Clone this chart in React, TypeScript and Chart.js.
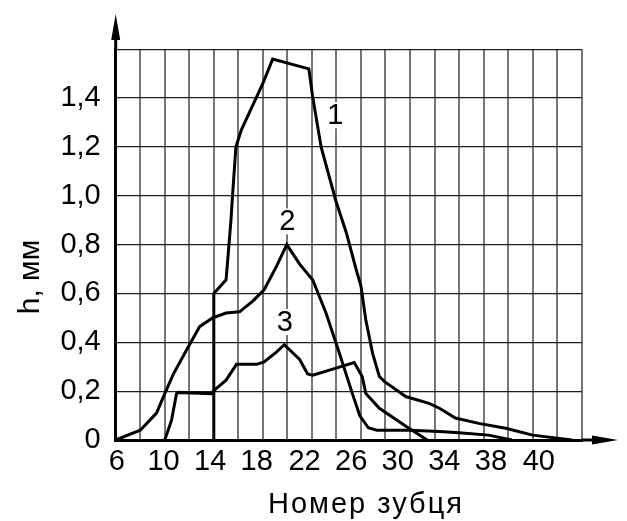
import React, { useEffect, useRef } from 'react';
import { Chart, registerables } from 'chart.js';

Chart.register(...registerables);

// Curve 1
const curve1X = [14, 14, 15.0, 15.4, 15.5, 15.8, 16.25, 18.0, 18.8, 21.75, 22.05, 22.75, 23.95, 24.8, 25.6, 26.0, 26.4, 26.95, 27.5, 27.9, 29.65, 31.55, 32.4, 33.7, 35.6, 37.8, 40.0, 43.2];
const curve1Y = [0, 0.6, 0.656, 0.9, 0.98, 1.2, 1.27, 1.46, 1.56, 1.52, 1.41, 1.2, 0.98, 0.85, 0.7, 0.63, 0.49, 0.355, 0.26, 0.24, 0.178, 0.15, 0.13, 0.09, 0.068, 0.048, 0.02, 0];
// Curve 2
const curve2X = [6, 8.0, 9.33, 10.0, 10.7, 11.9, 12.85, 13.9, 15.0, 16.1, 17.2, 18.1, 19.1, 19.95, 21.0, 22.07, 23.15, 24.24, 25.3, 25.9, 26.6, 27.3, 30, 32.4, 34, 36.4, 38.3];
const curve2Y = [0, 0.04, 0.11, 0.19, 0.27, 0.38, 0.465, 0.5, 0.52, 0.525, 0.57, 0.615, 0.71, 0.8, 0.72, 0.655, 0.52, 0.355, 0.19, 0.1, 0.05, 0.04, 0.04, 0.035, 0.03, 0.02, 0];
// Curve 3
const curve3X = [10.0, 10.55, 10.96, 11.1, 13.8, 13.95, 15.0, 15.85, 17.5, 18.1, 19.1, 19.75, 21.0, 21.65, 22.07, 23.7, 25.45, 26.1, 26.4, 27.5, 29.7, 31.4];
const curve3Y = [0, 0.08, 0.19, 0.195, 0.19, 0.2, 0.245, 0.31, 0.31, 0.32, 0.36, 0.39, 0.33, 0.27, 0.265, 0.29, 0.317, 0.26, 0.19, 0.13, 0.055, 0];

// Curve labels
const curveLabels = ['1', '2', '3'];
const curveLabelX = [23.9, 20.0, 19.8];
const curveLabelY = [1.33, 0.895, 0.483];

// Axes
const xGridValues = [6, 8, 10, 12, 14, 16, 18, 20, 22, 24, 26, 28, 30, 32, 34, 36, 38, 40, 42, 44];
const xTickPositions = [6.1, 9.9, 13.7, 17.5, 21.4, 25.2, 29.0, 32.8, 36.6, 40.5];
const xTickLabels = ['6', '10', '14', '18', '22', '26', '30', '34', '38', '40'];
const yGridValues = [0, 0.2, 0.4, 0.6, 0.8, 1.0, 1.2, 1.4, 1.6];
const yTickLabels = ['0', '0,2', '0,4', '0,6', '0,8', '1,0', '1,2', '1,4', ''];
const xTitle = 'Номер зубця';
const yTitle = 'h, мм';

const FONT = "'Liberation Sans', Arial, sans-serif";

const toPoints = (xs: number[], ys: number[]) => xs.map((x, i) => ({ x, y: ys[i] }));

const decorPlugin = {
  id: 'decor',
  afterDraw(chart: any) {
    const { ctx, chartArea, scales } = chart;
    const xs = scales.x;
    const ys = scales.y;
    ctx.save();
    ctx.strokeStyle = '#000';
    ctx.fillStyle = '#000';
    ctx.lineWidth = 3;
    // y axis extension + arrow
    const ax = chartArea.left;
    ctx.beginPath();
    ctx.moveTo(ax, chartArea.top);
    ctx.lineTo(ax, 30);
    ctx.stroke();
    ctx.beginPath();
    ctx.moveTo(ax, 14);
    ctx.lineTo(ax - 4.5, 40);
    ctx.lineTo(ax + 4.5, 40);
    ctx.closePath();
    ctx.fill();
    // x axis extension + arrow
    const ay = chartArea.bottom;
    ctx.beginPath();
    ctx.moveTo(chartArea.right, ay);
    ctx.lineTo(600, ay);
    ctx.stroke();
    ctx.beginPath();
    ctx.moveTo(618, ay);
    ctx.lineTo(592, ay - 4.5);
    ctx.lineTo(592, ay + 4.5);
    ctx.closePath();
    ctx.fill();
    // curve labels
    ctx.font = `29px ${FONT}`;
    ctx.textAlign = 'center';
    ctx.textBaseline = 'middle';
    curveLabels.forEach((t, i) => {
      const px = xs.getPixelForValue(curveLabelX[i]);
      const py = ys.getPixelForValue(curveLabelY[i]);
      ctx.fillStyle = '#fff';
      ctx.fillRect(px - 9, py - 13, 18, 26);
      ctx.fillStyle = '#000';
      ctx.fillText(t, px, py + 1);
    });
    // axis titles
    ctx.font = `29px ${FONT}`;
    ctx.textBaseline = 'alphabetic';
    ctx.textAlign = 'center';
    try { (ctx as any).letterSpacing = '2px'; } catch (e) {}
    ctx.fillText(xTitle, 366, 513);
    try { (ctx as any).letterSpacing = '0px'; } catch (e) {}
    ctx.font = `30px ${FONT}`;
    ctx.save();
    ctx.translate(39, 277);
    ctx.rotate(-Math.PI / 2);
    ctx.fillText(yTitle, 0, 0);
    ctx.restore();
    ctx.restore();
  },
};

export default function App() {
  const ref = useRef<HTMLCanvasElement | null>(null);
  useEffect(() => {
    if (!ref.current) return;
    const lineStyle = {
      borderColor: '#000',
      borderWidth: 3,
      pointRadius: 0,
      tension: 0,
      fill: false,
    };
    const chart = new Chart(ref.current, {
      type: 'line',
      data: {
        datasets: [
          { label: '1', data: toPoints(curve1X, curve1Y), ...lineStyle },
          { label: '2', data: toPoints(curve2X, curve2Y), ...lineStyle },
          { label: '3', data: toPoints(curve3X, curve3Y), ...lineStyle },
        ],
      },
      options: {
        responsive: false,
        animation: false,
        layout: { padding: { top: 49.3, right: 45.3, bottom: 0, left: 0 } },
        plugins: {
          legend: { display: false },
          tooltip: { enabled: false },
          title: { display: false },
        },
        scales: {
          x: {
            type: 'linear',
            min: 6,
            max: 44,
            position: 'bottom',
            afterBuildTicks: (s: any) => {
              s.ticks = xGridValues.map((v) => ({ value: v }));
            },
            ticks: { display: false },
            grid: { color: '#767676', lineWidth: 2, drawTicks: false },
            border: { display: true, color: '#000', width: 3 },
          },
          xLab: {
            type: 'linear',
            min: 6,
            max: 44,
            position: 'bottom',
            afterBuildTicks: (s: any) => {
              s.ticks = xTickPositions.map((v) => ({ value: v }));
            },
            afterFit: (s: any) => {
              s.height = 81;
            },
            ticks: {
              autoSkip: false,
              maxRotation: 0,
              padding: 5,
              color: '#000',
              font: { family: FONT, size: 29 },
              callback: (_v: any, i: number) => xTickLabels[i],
            },
            grid: { display: false, drawTicks: false },
            border: { display: false },
          },
          y: {
            type: 'linear',
            min: 0,
            max: 1.6,
            afterBuildTicks: (s: any) => {
              s.ticks = yGridValues.map((v) => ({ value: v }));
            },
            afterFit: (s: any) => {
              s.width = 115.7;
            },
            ticks: {
              padding: 15,
              color: '#000',
              font: { family: FONT, size: 29 },
              callback: (_v: any, i: number) => yTickLabels[i],
            },
            grid: { color: '#1e1e1e', lineWidth: 1.3, drawTicks: false },
            border: { display: true, color: '#000', width: 3 },
          },
        },
      },
      plugins: [decorPlugin],
    } as any);
    return () => chart.destroy();
  }, []);
  return (
    <div style={{ position: 'fixed', left: 0, top: 0, width: 627, height: 521, background: '#fff' }}>
      <canvas ref={ref} width={627} height={521} style={{ display: 'block' }} />
    </div>
  );
}
